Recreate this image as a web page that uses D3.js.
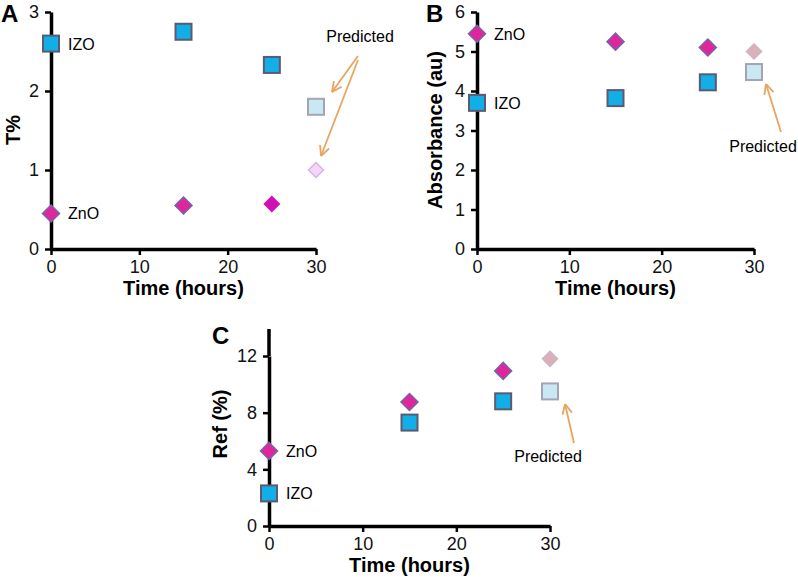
<!DOCTYPE html>
<html>
<head>
<meta charset="utf-8">
<script src="https://cdn.jsdelivr.net/npm/d3@7"></script>
<style>
  body { margin: 0; background: #fff; }
  text { font-family: "Liberation Sans", Arial, sans-serif; }
</style>
</head>
<body>
<div id="chart"></div>
<script>
// data
var hours = [0, 15, 25];
var predHour = 30;
var xTicks = [0, 10, 20, 30];

var tIZO = [2.6, 2.75, 2.33], tIZOPred = 1.8;
var tZnO = [0.45, 0.55, 0.57], tZnOPred = 1.0;
var tTicks = [0, 1, 2, 3];

var absZnO = [5.45, 5.25, 5.1], absZnOPred = 5.0;
var absIZO = [3.7, 3.82, 4.22], absIZOPred = 4.48;
var absTicks = [0, 1, 2, 3, 4, 5, 6];

var refZnO = [5.3, 8.75, 10.95], refZnOPred = 11.8;
var refIZO = [2.3, 7.3, 8.8], refIZOPred = 9.5;
var refTicks = [0, 4, 8, 12];

var width = 798, height = 581;
var svg = d3.select("#chart").append("svg")
    .attr("width", width)
    .attr("height", height);

var izoFill = "#12aee8", izoStroke = "#5a5a70";
var znoFill = "#e0269c", znoStroke = "#7a62a8";

function square(g, cx, cy, fill, stroke) {
  g.append("rect")
    .attr("x", cx - 8).attr("y", cy - 8)
    .attr("width", 16).attr("height", 16)
    .attr("fill", fill).attr("stroke", stroke).attr("stroke-width", 2);
}
function diamond(g, cx, cy, fill, stroke, r) {
  r = r || 8.5;
  g.append("path")
    .attr("d", "M" + cx + "," + (cy - r) + "L" + (cx + r) + "," + cy + "L" + cx + "," + (cy + r) + "L" + (cx - r) + "," + cy + "Z")
    .attr("fill", fill).attr("stroke", stroke).attr("stroke-width", stroke == "none" ? 0 : 1.5);
}
function arrow(g, x1, y1, x2, y2) {
  var ang = Math.atan2(y2 - y1, x2 - x1), L = 11;
  g.append("line").attr("x1", x1).attr("y1", y1).attr("x2", x2).attr("y2", y2)
    .attr("stroke", "#e8a460").attr("stroke-width", 1.8);
  [0.45, -0.45].forEach(function(a) {
    g.append("line").attr("x1", x2).attr("y1", y2)
      .attr("x2", x2 - L * Math.cos(ang + a)).attr("y2", y2 - L * Math.sin(ang + a))
      .attr("stroke", "#e8a460").attr("stroke-width", 1.8);
  });
}

function panel(opt) {
  var x = d3.scaleLinear().domain([0, 30]).range([opt.x0, opt.x1]);
  var y = d3.scaleLinear().domain([0, opt.ymax]).range([opt.y0, opt.y1]);
  var g = svg.append("g");

  var ax = g.append("g").attr("transform", "translate(0," + opt.y0 + ")")
    .call(d3.axisBottom(x).tickValues(xTicks).tickFormat(d3.format("d"))
      .tickSize(6).tickPadding(5).tickSizeOuter(0));
  var ay = g.append("g").attr("transform", "translate(" + opt.x0 + ",0)")
    .call(d3.axisLeft(y).tickValues(opt.ticks).tickFormat(d3.format("d"))
      .tickSize(6).tickPadding(6).tickSizeOuter(0));
  [ax, ay].forEach(function(a) {
    a.attr("font-size", 18).attr("font-family", null);
    a.select(".domain").attr("stroke", "#000").attr("stroke-width", 3.5);
    a.selectAll(".tick line").attr("stroke", "#000").attr("stroke-width", 2.5);
    a.selectAll(".tick text").attr("fill", "#111");
  });
  if (opt.top) {
    g.append("line").attr("x1", opt.x0).attr("x2", opt.x0)
      .attr("y1", y(opt.ymax)).attr("y2", opt.top)
      .attr("stroke", "#000").attr("stroke-width", 3.5);
  }

  g.append("text").attr("x", (opt.x0 + opt.x1) / 2).attr("y", opt.y0 + 46)
    .attr("text-anchor", "middle").style("font-size", "20px").style("font-weight", "bold")
    .text("Time (hours)");
  g.append("text")
    .attr("transform", "translate(" + opt.ytx + "," + opt.yty + ") rotate(-90)")
    .attr("text-anchor", "middle").style("font-size", "20px").style("font-weight", "bold")
    .text(opt.ytitle);
  g.append("text").attr("x", opt.lx).attr("y", opt.ly)
    .style("font-size", "24px").style("font-weight", "bold").text(opt.letter);

  // series
  opt.izo.forEach(function(v, i) { square(g, x(hours[i]), y(v), izoFill, izoStroke); });
  square(g, x(predHour), y(opt.izoPred), "#c8e8f4", "#a4a4b4");
  opt.zno.forEach(function(v, i) {
    diamond(g, x(hours[i]), y(v), opt.znoPlain && i == 2 ? "#d010b4" : znoFill,
      opt.znoPlain && i == 2 ? "none" : znoStroke);
  });
  diamond(g, x(predHour), y(opt.znoPred), opt.predDFill, opt.predDStroke, 7.5);

  g.append("text").attr("x", x(0) + 17).attr("y", y(opt.izo[0]) + 6)
    .style("font-size", "16px").text("IZO");
  g.append("text").attr("x", x(0) + 17).attr("y", y(opt.zno[0]) + 6)
    .style("font-size", "16px").text("ZnO");
  return {x: x, y: y, g: g};
}

var A = panel({x0: 51, x1: 316, y0: 249, y1: 12, ymax: 3, ticks: tTicks,
  izo: tIZO, izoPred: tIZOPred, zno: tZnO, znoPred: tZnOPred, znoPlain: true,
  predDFill: "#f4d4f8", predDStroke: "#d4b4e4",
  ytitle: "T%", ytx: 20, yty: 130, letter: "A", lx: 1, ly: 22});
A.g.append("text").attr("x", 360).attr("y", 42).attr("text-anchor", "middle")
  .style("font-size", "16px").text("Predicted");
arrow(A.g, 358, 56, 332, 92);
arrow(A.g, 358, 60, 321, 156);

var B = panel({x0: 477, x1: 754, y0: 249, y1: 12, ymax: 6, ticks: absTicks,
  izo: absIZO, izoPred: absIZOPred, zno: absZnO, znoPred: absZnOPred,
  predDFill: "#dcb0b8", predDStroke: "#ccb4c4",
  ytitle: "Absorbance (au)", ytx: 442, yty: 130, letter: "B", lx: 426, ly: 22});
B.g.append("text").attr("x", 763).attr("y", 152).attr("text-anchor", "middle")
  .style("font-size", "16px").text("Predicted");
arrow(B.g, 781, 132, 766, 84);

var C = panel({x0: 269, x1: 550, y0: 526, y1: 356, ymax: 12, ticks: refTicks, top: 329,
  izo: refIZO, izoPred: refIZOPred, zno: refZnO, znoPred: refZnOPred,
  predDFill: "#dcb0b8", predDStroke: "#ccb4c4",
  ytitle: "Ref (%)", ytx: 227, yty: 424, letter: "C", lx: 212, ly: 344});
C.g.append("text").attr("x", 548).attr("y", 462).attr("text-anchor", "middle")
  .style("font-size", "16px").text("Predicted");
arrow(C.g, 574, 443, 565, 404);
</script>
</body>
</html>
